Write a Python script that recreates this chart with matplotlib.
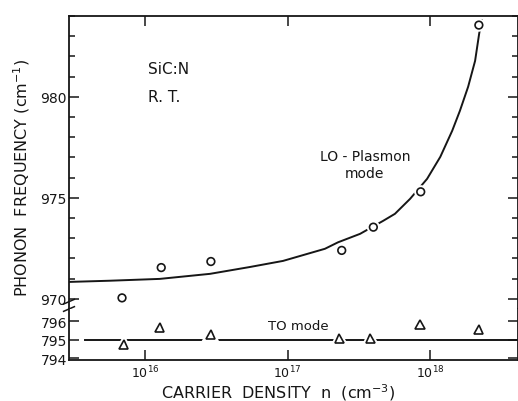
import matplotlib
matplotlib.use("Agg")
import matplotlib.pyplot as plt
import matplotlib.patheffects as pe
from matplotlib.ticker import FixedLocator, NullLocator

# LO-plasmon mode, measured points (circles)
lo_n = [6.9e15, 1.3e16, 2.9e16, 2.4e17, 4.0e17, 8.6e17, 2.2e18]
lo_freq = [970.05, 971.55, 971.85, 972.4, 973.55, 975.3, 983.55]

# TO mode, measured points (triangles)
to_n = [7.1e15, 1.27e16, 2.9e16, 2.3e17, 3.8e17, 8.5e17, 2.2e18]
to_freq = [794.75, 795.65, 795.3, 795.05, 795.05, 795.8, 795.55]

# drawn curves
lo_fit_n = [2.93e15, 5.7e15, 1.27e16, 2.86e16, 5.46e16, 9.3e16, 1.83e17, 2.26e17,
            3.23e17, 4.68e17, 5.67e17, 7.24e17, 9.53e17, 1.18e18, 1.43e18,
            1.62e18, 1.85e18, 2.07e18, 2.21e18, 2.3e18]
lo_fit_freq = [970.84, 970.9, 970.99, 971.24, 971.58, 971.88, 972.48, 972.8,
               973.22, 973.86, 974.21, 974.95, 975.94, 977.03, 978.32,
               979.31, 980.5, 981.78, 983.12, 983.8]
to_fit_n = [3.8e15, 4.2e18]
to_fit_freq = [795.0, 795.0]

x_ticks = [1e16, 1e17, 1e18]
x_labels = ["$10^{16}$", "$10^{17}$", "$10^{18}$"]
top_major = [970, 975, 980]
top_minor = list(range(970, 985))
bot_major = [794, 795, 796]

W, H = 518, 402
ink = "#161616"
plt.rcParams["font.family"] = "DejaVu Sans"
plt.rcParams["mathtext.fontset"] = "dejavusans"

fig = plt.figure(figsize=(W / 100, H / 100), dpi=100)
ax = fig.add_axes([69 / W, (H - 310) / H, (W - 69) / W, 293 / H])
axb = fig.add_axes([69 / W, (H - 361) / H, (W - 69) / W, 51 / H], sharex=ax)

halo = [pe.withStroke(linewidth=4, foreground="white")]

ax.plot(lo_fit_n, lo_fit_freq, color=ink, lw=1.4)
ax.plot(lo_n, lo_freq, "o", ms=5.5, mfc="white", mec=ink, mew=1.2, path_effects=halo)
axb.plot(to_fit_n, to_fit_freq, color=ink, lw=1.4)
axb.plot(to_n, to_freq, "^", ms=6.5, mfc="white", mec=ink, mew=1.2, path_effects=halo)

ax.set_xscale("log")
ax.set_xlim(2.93e15, 4.14e18)
ax.set_ylim(969.5, 984)
axb.set_ylim(793.9, 796.65)

for a in (ax, axb):
    for s in a.spines.values():
        s.set_linewidth(1.3)
        s.set_color(ink)
    a.xaxis.set_major_locator(FixedLocator(x_ticks))
    a.xaxis.set_minor_locator(NullLocator())
    a.tick_params(which="both", direction="in", color=ink, labelsize=10,
                  labelcolor=ink, width=1.1, right=True)
    a.tick_params(which="major", length=7, pad=1.5)
    a.tick_params(which="minor", length=4)

ax.spines["bottom"].set_visible(False)
axb.spines["top"].set_visible(False)
ax.tick_params(axis="x", top=True, bottom=False, labelbottom=False)
axb.tick_params(axis="x", top=False, bottom=True, pad=3, labelsize=9)
axb.set_xticks(x_ticks)
axb.set_xticklabels(x_labels)

ax.yaxis.set_major_locator(FixedLocator(top_major))
ax.yaxis.set_minor_locator(FixedLocator(top_minor))
axb.yaxis.set_major_locator(FixedLocator(bot_major))
axb.yaxis.set_minor_locator(NullLocator())

# axis break marks on the left spine
for yy in (0.0, 0.025):
    ax.plot([-0.012, 0.012], [yy - 0.008, yy + 0.008], transform=ax.transAxes,
            color=ink, lw=1.1, clip_on=False)

fig.text(148 / W, 1 - 70 / H, "SiC:N", fontsize=11, color=ink, va="center")
fig.text(148 / W, 1 - 97 / H, "R. T.", fontsize=11, color=ink, va="center")
fig.text(365 / W, 1 - 157 / H, "LO - Plasmon", fontsize=10, color=ink, ha="center", va="center")
fig.text(364 / W, 1 - 174 / H, "mode", fontsize=10, color=ink, ha="center", va="center")
fig.text(298 / W, 1 - 327 / H, "TO mode", fontsize=9.5, color=ink, ha="center", va="center")

fig.text(22 / W, 1 - 178 / H, "PHONON  FREQUENCY (cm$^{-1}$)", fontsize=11.5, color=ink,
         rotation=90, ha="center", va="center")
fig.text(278 / W, 1 - 393 / H, "CARRIER  DENSITY  n  (cm$^{-3}$)", fontsize=11.5, color=ink,
         ha="center", va="center")

fig.savefig("out.png", dpi=100, facecolor="white")
